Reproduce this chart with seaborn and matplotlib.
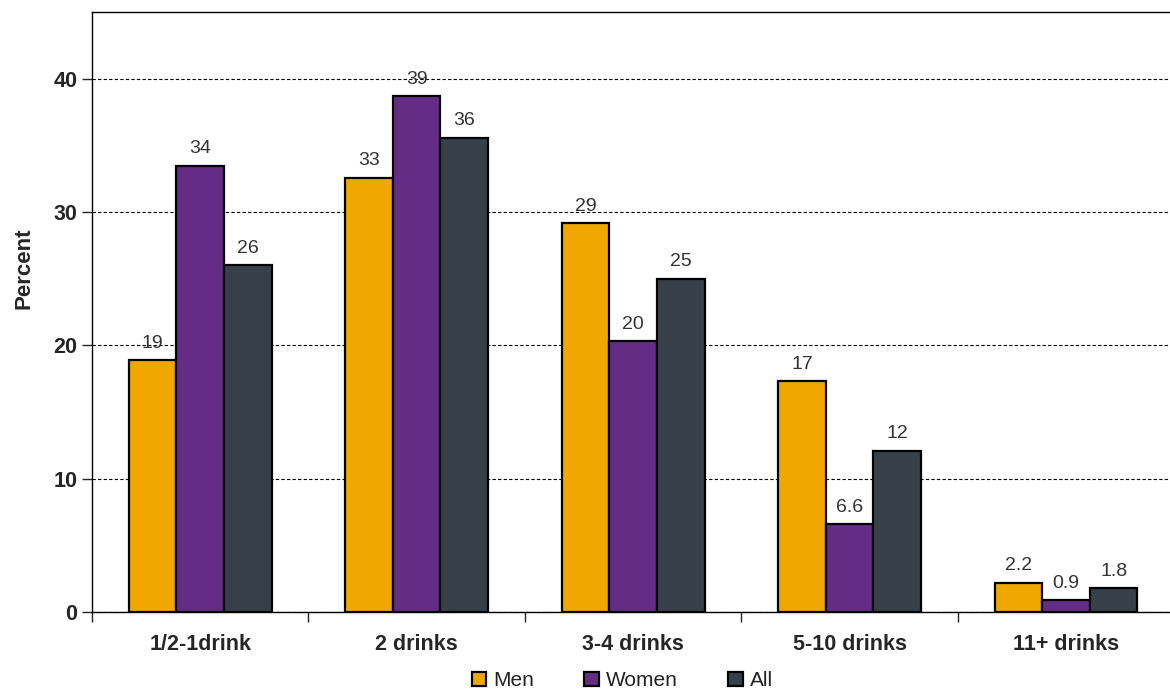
import numpy as np
import pandas as pd
import matplotlib as mpl
import matplotlib.pyplot as plt
import seaborn as sns

mpl.use('Agg')

# Data
categories = ['1/2-1drink', '2 drinks', '3-4 drinks', '5-10 drinks', '11+ drinks']
groups = ['Men', 'Women', 'All']
men = [18.9, 32.6, 29.2, 17.3, 2.2]
women = [33.5, 38.7, 20.3, 6.6, 0.9]
all_people = [26.0, 35.6, 25.0, 12.1, 1.8]
colors = ['#F0A800', '#652C85', '#374048']

df = pd.DataFrame({
    'category': categories * 3,
    'group': np.repeat(groups, len(categories)),
    'value': men + women + all_people,
})

sns.set_style('white')
plt.rcParams['font.family'] = ['Liberation Sans', 'DejaVu Sans']

fig = plt.figure(figsize=(11.7, 6.89), dpi=100)
ax = fig.add_axes([0.0786, 0.112, 0.925, 0.87])

sns.barplot(data=df, x='category', y='value', hue='group', order=categories,
            hue_order=groups, palette=colors, width=0.66, edgecolor='black',
            linewidth=1.6, saturation=1, ax=ax)

def fmt(v):
    return f'{v:.0f}' if v >= 10 else f'{v:.1f}'

for cont in ax.containers:
    ax.bar_label(cont, labels=[fmt(b.get_height()) for b in cont], padding=6,
                 fontsize=14, color='#333333')

ax.set_xlim(-0.5, 4.5)
ax.set_ylim(0, 45)
ax.set_yticks([0, 10, 20, 30, 40])
ax.yaxis.grid(True, linestyle=(0, (3, 2)), color='black', linewidth=0.8)
ax.set_axisbelow(True)
ax.set_xlabel('')
ax.set_ylabel('Percent', fontsize=16, fontweight='bold')
ax.yaxis.set_label_coords(-0.053, 0.573)

ax.set_xticks(range(len(categories)))
ax.set_xticklabels(categories, fontsize=15.5, fontweight='bold')
ax.set_xticks(np.arange(-0.5, 5, 1), minor=True)
ax.tick_params(axis='x', which='major', length=0, pad=16)
ax.tick_params(axis='x', which='minor', length=7, width=1, direction='out', bottom=True)
ax.tick_params(axis='y', length=7, width=1, direction='out', left=True, labelsize=15.5)
for lbl in ax.get_yticklabels():
    lbl.set_fontweight('bold')

for side in ['left', 'bottom', 'top']:
    ax.spines[side].set_color('black')
    ax.spines[side].set_linewidth(1)
ax.spines['right'].set_visible(False)

handles, labels = ax.get_legend_handles_labels()
ax.legend(handles, labels, loc='center', bbox_to_anchor=(0.49, -0.115),
          ncol=3, frameon=False, fontsize=15, handlelength=0.7, handleheight=0.7,
          handletextpad=0.35, columnspacing=2.4, borderpad=0, labelcolor='#222222')

fig.savefig('out.png', dpi=100)
